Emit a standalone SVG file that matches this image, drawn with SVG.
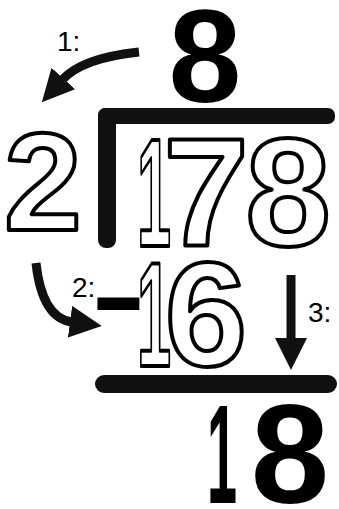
<svg xmlns="http://www.w3.org/2000/svg" width="339" height="509" viewBox="0 0 339 509">
<style>
.dig{font-family:"Liberation Sans",Arial,sans-serif;font-weight:bold;text-anchor:middle}
.solid{fill:#000}
.outl{fill:#fff;stroke:#000;stroke-width:4;stroke-linejoin:round}
.lbl{font-family:"Liberation Sans",Arial,sans-serif;font-size:28px;fill:#000}
.bar{fill:#111}
.conn{fill:none;stroke:#111;stroke-width:9}
</style>
<defs>
<marker id="ah" markerUnits="userSpaceOnUse" markerWidth="32" markerHeight="32" viewBox="0 0 32 32" refX="2" refY="16" orient="auto">
<path d="M0,0 L32,16 L0,32 z" fill="#111"/>
</marker>
</defs>
<rect width="339" height="509" fill="#fff"/>
<g id="quotient">
<text class="dig solid" x="205" y="102" font-size="131">8</text>
</g>
<g id="bracket">
<rect class="bar" x="98" y="108" width="237" height="16" rx="7"/>
<rect class="bar" x="98" y="108" width="18" height="140" rx="8"/>
</g>
<g id="divisor">
<text class="dig outl" x="43" y="230" font-size="140">2</text>
</g>
<g id="dividend">
<text class="dig outl" y="246" font-size="154"><tspan x="154" textLength="34" lengthAdjust="spacingAndGlyphs">1</tspan><tspan x="206">7</tspan><tspan x="288">8</tspan></text>
</g>
<g id="subtrahend">
<text class="dig solid" x="91" y="331" font-size="103" style="text-anchor:start" textLength="55" lengthAdjust="spacingAndGlyphs">-</text>
<text class="dig outl" y="366" font-size="148"><tspan x="154" textLength="34" lengthAdjust="spacingAndGlyphs">1</tspan><tspan x="206">6</tspan></text>
</g>
<g id="rule">
<rect class="bar" x="95" y="375" width="242" height="18" rx="9"/>
</g>
<g id="remainder">
<text class="dig solid" y="503" font-size="141"><tspan x="222" textLength="30" lengthAdjust="spacingAndGlyphs">1</tspan><tspan x="290">8</tspan></text>
</g>
<g id="labels">
<text class="lbl" x="57" y="51">1:</text>
<text class="lbl" x="72" y="297">2:</text>
<text class="lbl" x="308" y="322">3:</text>
</g>
<g id="connectors">
<path class="conn" d="M139,52 Q82,58 62,80" marker-end="url(#ah)"/>
<path class="conn" d="M36,263 Q42,318 72,322" marker-end="url(#ah)"/>
<path class="conn" d="M291,275 L291,340" marker-end="url(#ah)"/>
</g>
</svg>
